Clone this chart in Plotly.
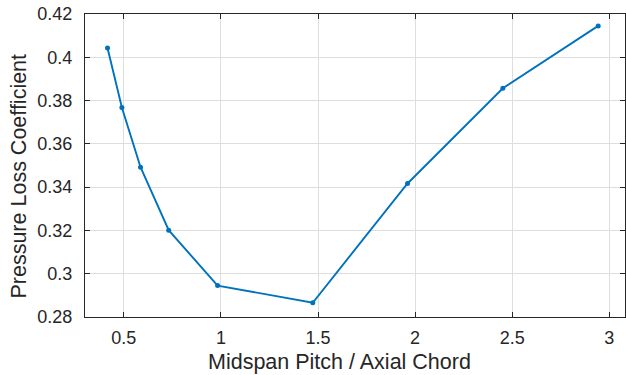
import plotly.graph_objects as go

pitch_ratio = [0.416, 0.490, 0.586, 0.731, 0.983, 1.473, 1.961, 2.452, 2.943]
loss_coeff = [0.4043, 0.3768, 0.3492, 0.3201, 0.2945, 0.2866, 0.3417, 0.3857, 0.4145]
x_ticks = [0.5, 1, 1.5, 2, 2.5, 3]
y_ticks = [0.28, 0.30, 0.32, 0.34, 0.36, 0.38, 0.40, 0.42]
y_tick_text = ["0.28", "0.3", "0.32", "0.34", "0.36", "0.38", "0.4", "0.42"]
x_title = "Midspan Pitch / Axial Chord"
y_title = "Pressure Loss Coefficient"

ink = "#262626"
font_family = "Liberation Sans, Arial, sans-serif"
fig = go.Figure(go.Scatter(
    x=pitch_ratio, y=loss_coeff, mode="lines+markers",
    line=dict(color="#0072BD", width=1.9),
    marker=dict(color="#0072BD", size=5),
    showlegend=False,
))

axis_common = dict(
    showline=True, linecolor=ink, linewidth=1, mirror="ticks",
    ticks="inside", ticklen=5, tickwidth=1, tickcolor=ink,
    showgrid=True, gridcolor="#dedede", gridwidth=1.3,
    zeroline=False, automargin=False,
    tickfont=dict(family=font_family, size=18, color=ink),
)

fig.update_xaxes(
    range=[0.3, 3.081], tickvals=x_ticks, ticktext=[str(v) for v in x_ticks],
    ticklabelstandoff=4,
    **axis_common,
)
fig.update_yaxes(
    range=[0.28, 0.42], tickvals=y_ticks, ticktext=y_tick_text,
    ticklabelstandoff=8,
    **axis_common,
)

fig.add_annotation(text=x_title, xref="paper", yref="paper", x=0.4713, y=-0.148,
                   xanchor="center", yanchor="middle", showarrow=False,
                   font=dict(family=font_family, size=21.5, color=ink))
fig.add_annotation(text=y_title, xref="paper", yref="paper", x=-0.1231, y=0.4653,
                   xanchor="center", yanchor="middle", showarrow=False, textangle=-90,
                   font=dict(family=font_family, size=21.5, color=ink))

fig.update_layout(
    width=626, height=375,
    margin=dict(l=85, r=1, t=14, b=58),
    paper_bgcolor="white", plot_bgcolor="white",
)

fig.write_html("out.html", config={"displayModeBar": False},
               post_script="document.body.style.margin='0';document.body.style.overflow='hidden';")
